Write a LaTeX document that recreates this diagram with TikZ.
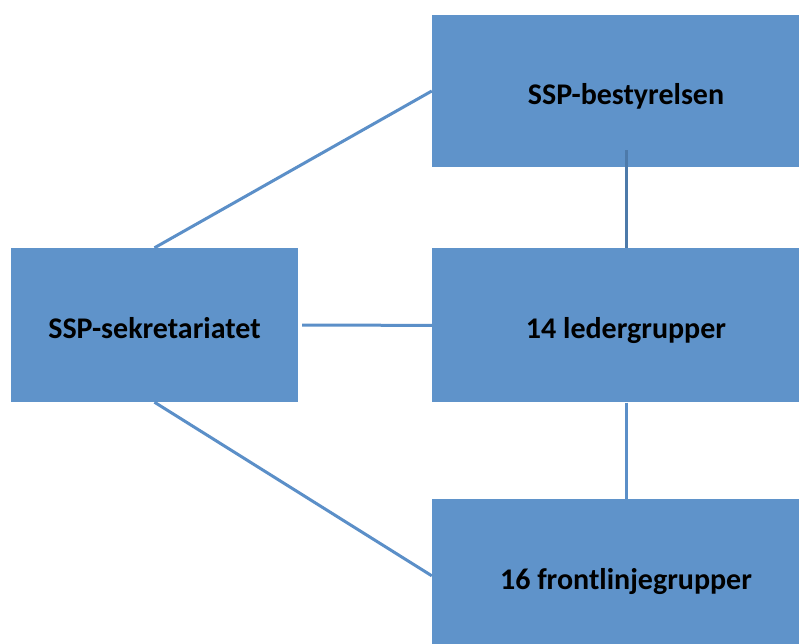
\documentclass[tikz,border=0pt]{standalone}
\usepackage{fontspec}
\setmainfont{Carlito}
\usetikzlibrary{positioning}
\definecolor{boxblue}{HTML}{5F93CA}
\definecolor{lineblue}{HTML}{5B8FC8}
\tikzset{>=latex}
\tikzset{orgbox/.style={fill=boxblue, draw=none, inner sep=0pt, text height=27pt, text depth=0pt, font=\fontsize{30}{36}\selectfont\bfseries}}
\begin{document}
\begin{tikzpicture}[x=1pt, y=-1pt]
      \clip (0,0) rectangle (799,644);
      \fill[white] (0,0) rectangle (799,644);
      \node[orgbox, minimum width=388pt, minimum height=152pt] (best) at (626,91) {SSP-bestyrelsen};
      \node[orgbox, minimum width=388pt, minimum height=154pt, below=81pt of best] (leder) {14 ledergrupper};
      \node[orgbox, minimum width=388pt, minimum height=154pt, below=96pt of leder] (front) {16 frontlinjegrupper};
      \node[orgbox, minimum width=287pt, minimum height=154pt] (sekr) at (154.5,325) {SSP-sekretariatet};
      \draw[lineblue, line width=3pt] (sekr.north) to (best.west);
      \draw[lineblue, line width=3pt, shorten <=4pt] (sekr.east) to (leder.west);
      \draw[lineblue, line width=3pt] (sekr.south) to (front.west);
      \draw[lineblue!85!black, line width=3pt] ([yshift=17pt]best.south) to (leder.north);
      \draw[lineblue, line width=3pt] (leder.south) to (front.north);
    \end{tikzpicture}
\end{document}
